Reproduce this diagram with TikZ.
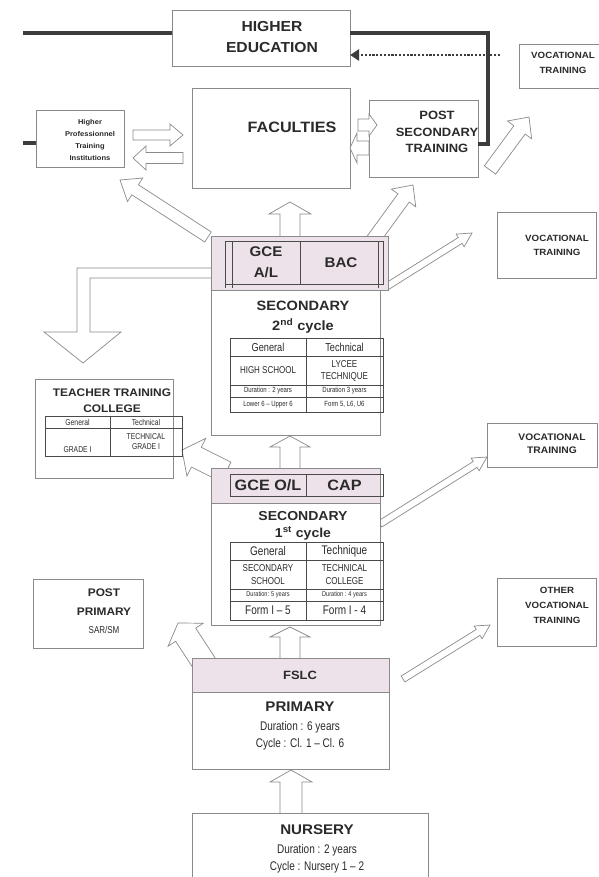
\documentclass[tikz,border=0pt]{standalone}
\usepackage{fontspec}
\setmainfont{Liberation Sans}
\newfontfamily\hf[FakeStretch=1.08]{Liberation Sans}
\newfontfamily\nf[FakeStretch=0.8]{Liberation Sans}
\usetikzlibrary{calc,arrows.meta}
\definecolor{txt}{HTML}{2A2A2A}
\definecolor{edge}{HTML}{8A8A8A}
\definecolor{pinkh}{HTML}{EDE2EA}
\definecolor{dark}{HTML}{3C3C3C}
\definecolor{tbl}{HTML}{4A4A4A}
\newcommand\fs[2]{\fontsize{#1}{#2}\selectfont}
\tikzset{
 box/.style={draw=edge, line width=0.8pt, fill=white, inner sep=0pt, outer sep=0pt},
 hbox/.style={box, fill=pinkh},
 tx/.style={text=txt, inner sep=0pt, align=center},
 barrowst/.style={draw=edge, line width=0.7pt, fill=white, line join=miter},
 heavy/.style={draw=dark, line width=4.5pt},
 tline/.style={draw=tbl, line width=1pt},
}
\newcommand\bx[6][box]{\node[#1, minimum width={#5-#3}, minimum height={#6-#4}] (#2) at ({(#3+#5)/2},{(#4+#6)/2}) {};}
\newcommand\barr[5]{%
 \coordinate (bc) at ($(#2)!#5!(#1)$);
 \draw[barrowst] ($(#1)!#3/2!90:(#2)$) -- ($(bc)!#3/2!-90:(#1)$) -- ($(bc)!#4/2!-90:(#1)$) -- (#2) -- ($(bc)!#4/2!90:(#1)$) -- ($(bc)!#3/2!90:(#1)$) -- ($(#1)!#3/2!-90:(#2)$) -- cycle;}
\begin{document}
\begin{tikzpicture}[x=1pt,y=-1pt]
\fill[white] (0,0) rectangle (598,877);
\useasboundingbox (0,0) rectangle (598,877);

% ---- arrows under boxes
\coordinate (a1s) at (133,135); \coordinate (a1e) at (183,135);
\coordinate (a2s) at (183,158); \coordinate (a2e) at (133,158);
\coordinate (a5s) at (490,170); \coordinate (a5e) at (529,117);
\coordinate (a6s) at (373,240); \coordinate (a6e) at (413,185);
\coordinate (a7s) at (290,240); \coordinate (a7e) at (290,202);
\coordinate (a8s) at (208,237); \coordinate (a8e) at (120,180);
\coordinate (a9s) at (386,287); \coordinate (a9e) at (472,233);
\coordinate (a10s) at (290,470); \coordinate (a10e) at (290,436);
\coordinate (a11s) at (226,472); \coordinate (a11e) at (182,450);
\coordinate (a12s) at (380,524); \coordinate (a12e) at (487,457);
\coordinate (a13s) at (290,660); \coordinate (a13e) at (290,627);
\coordinate (a14s) at (212,675); \coordinate (a14e) at (178,623);
\coordinate (a15s) at (403,679); \coordinate (a15e) at (490,625);
\coordinate (a16s) at (291,815); \coordinate (a16e) at (291,770);
\barr{a1s}{a1e}{10pt}{22pt}{13pt}
\barr{a2s}{a2e}{11pt}{24pt}{13pt}
\barr{a5s}{a5e}{14pt}{30pt}{16pt}
\barr{a6s}{a6e}{14pt}{30pt}{16pt}
\barr{a7s}{a7e}{20pt}{42pt}{12pt}
\barr{a8s}{a8e}{12pt}{28pt}{18pt}
\barr{a9s}{a9e}{7pt}{15pt}{14pt}
\barr{a10s}{a10e}{20pt}{40pt}{11pt}
\barr{a11s}{a11e}{22pt}{42pt}{16pt}
\barr{a12s}{a12e}{7pt}{15pt}{14pt}
\barr{a13s}{a13e}{20pt}{40pt}{10pt}
\barr{a14s}{a14e}{24pt}{42pt}{14pt}
\barr{a15s}{a15e}{7pt}{15pt}{14pt}
\barr{a16s}{a16e}{22pt}{42pt}{12pt}
% L-shaped arrow down to teacher training
\draw[barrowst] (215,268) -- (77,268) -- (77,332) -- (44,332) -- (83,363) -- (121,332) -- (90,332) -- (90,278) -- (215,278) -- cycle;

% ---- boxes
\bx{he}{172}{10}{350}{66}
\bx{vt1}{519}{44}{640}{88}
\bx{hpti}{36}{110}{124}{167}
\bx{fac}{192}{88}{350}{188}
\bx{pst}{369}{100}{478}{177}
\bx{vt2}{497}{212}{596}{278}
\bx[hbox]{s2h}{211}{236}{388}{290}
\bx{s2}{211}{290}{380}{435}
\bx{ttc}{35}{379}{173}{478}
\bx{vt3}{487}{423}{597}{467}
\bx[hbox]{s1h}{211}{468}{380}{503}
\bx{s1}{211}{503}{380}{625}
\bx{pp}{33}{579}{143}{648}
\bx{ovt}{497}{578}{596}{646}
\bx[hbox]{fslch}{192}{658}{389}{692}
\bx{prim}{192}{692}{389}{769}
\bx{nur}{192}{813}{428}{900}

% small arrows between faculties and post secondary
\coordinate (a3s) at (358,125); \coordinate (a3e) at (377,125);
\coordinate (a4s) at (369,148); \coordinate (a4e) at (350,148);
\barr{a3s}{a3e}{12pt}{22pt}{8pt}
\barr{a4s}{a4e}{14pt}{30pt}{7pt}

% ---- heavy lines
\coordinate (l1) at (23,33);
\coordinate (l2) at (488,33);
\coordinate (l3) at (488,144);
\coordinate (l4) at (23,143);
\draw[heavy] (l1) -- (l1 -| he.west);
\draw[heavy, line join=miter] (l1 -| he.east) -- (l2) -- (l3) -- (l3 -| pst.east);
\draw[heavy] (l4) -- (l4 -| hpti.west);
\coordinate (d1) at (500,55);
\draw[dark, line width=2.6pt, dash pattern=on 2.2pt off 1.6pt, -{Triangle[length=9pt,width=11pt]}] (d1) -- (d1 -| he.east);

% ---- tables
% 2nd cycle header
\draw[tline] (225,241) rectangle (383,284);
\draw[tline] (232,241) -- (232,288);
\draw[tline] (225,284) -- (225,288);
\draw[tline] (378,241) -- (378,288);
\draw[tline] (300,241) -- (300,284);
% 2nd cycle table
\draw[tline] (230,338) rectangle (383,412);
\foreach \yy in {356,385,397} \draw[tline] (230,\yy) -- (383,\yy);
\draw[tline] (306,338) -- (306,412);
% TTC table
\draw[tline] (45,416) rectangle (182,456);
\draw[tline] (45,428) -- (182,428);
\draw[tline] (110,416) -- (110,456);
% 1st cycle header
\draw[tline] (230,474) rectangle (383,496);
\draw[tline] (306,474) -- (306,496);
% 1st cycle table
\draw[tline] (230,542) rectangle (383,620);
\foreach \yy in {560,589,601} \draw[tline] (230,\yy) -- (383,\yy);
\draw[tline] (306,542) -- (306,620);

% ---- texts
\node[tx, font=\hf\bfseries\fs{14.5}{21}] (heT) at (272,37.5) {HIGHER\\EDUCATION};
\node[tx, font=\hf\bfseries\fs{15}{18}] (facT) at (292,127) {FACULTIES};
\node[tx, font=\hf\bfseries\fs{12}{16.5}] (pstT) at (437,132) {POST\\SECONDARY\\TRAINING};
\node[tx, font=\hf\bfseries\fs{9}{15}] (vt1T) at (563,63) {VOCATIONAL\\TRAINING};
\node[tx, font=\hf\bfseries\fs{7}{12}] (hptiT) at (90,140) {Higher\\Professionnel\\Training\\Institutions};
\node[tx, font=\hf\bfseries\fs{14}{21}] (glT) at (266,262.5) {GCE\\A/L};
\node[tx, font=\hf\bfseries\fs{14}{17}] (bacT) at (341,263) {BAC};
\node[tx, font=\hf\bfseries\fs{13.5}{20}] (s2T) at (303,317) {SECONDARY\\2\textsuperscript{nd} cycle};
\node[tx, font=\nf\fs{11.5}{13}] (t2a) at (268,347) {General};
\node[tx, font=\nf\fs{11.5}{13}] (t2b) at (344.5,347) {Technical};
\node[tx, font=\nf\fs{10}{12}] (t2c) at (268,370.5) {HIGH SCHOOL};
\node[tx, font=\nf\fs{10}{12}] (t2d) at (344.5,370.5) {LYCEE\\TECHNIQUE};
\node[tx, font=\nf\fs{7.5}{8}] (t2e) at (268,391) {Duration : 2 years};
\node[tx, font=\nf\fs{7.5}{8}] (t2f) at (344.5,391) {Duration 3 years};
\node[tx, font=\nf\fs{7.5}{8}] (t2g) at (268,404.5) {Lower 6 – Upper 6};
\node[tx, font=\nf\fs{7.5}{8}] (t2h) at (344.5,404.5) {Form 5, L6, U6};
\node[tx, font=\hf\bfseries\fs{11}{16}] (ttcT) at (112,401) {TEACHER TRAINING\\COLLEGE};
\node[tx, font=\nf\fs{8.5}{10}] (t3a) at (77.5,422) {General};
\node[tx, font=\nf\fs{8.5}{10}] (t3b) at (146,422) {Technical};
\node[tx, font=\nf\fs{8.5}{10}] (t3c) at (77.5,450) {GRADE I};
\node[tx, font=\nf\fs{8.5}{10}] (t3d) at (146,442) {TECHNICAL\\GRADE I};
\node[tx, font=\hf\bfseries\fs{15}{18}] (golT) at (268,485) {GCE O/L};
\node[tx, font=\hf\bfseries\fs{15}{18}] (capT) at (344.5,485) {CAP};
\node[tx, font=\hf\bfseries\fs{13}{17}] (s1T) at (303,525.5) {SECONDARY\\1\textsuperscript{st} cycle};
\node[tx, font=\nf\fs{12.5}{14}] (t1a) at (268,551) {General};
\node[tx, font=\nf\fs{12.5}{14}] (t1b) at (344.5,551) {Technique};
\node[tx, font=\nf\fs{10}{13}] (t1c) at (268,574.5) {SECONDARY\\SCHOOL};
\node[tx, font=\nf\fs{10}{13}] (t1d) at (344.5,574.5) {TECHNICAL\\COLLEGE};
\node[tx, font=\nf\fs{7}{8}] (t1e) at (268,595) {Duration: 5 years};
\node[tx, font=\nf\fs{7}{8}] (t1f) at (344.5,595) {Duration : 4 years};
\node[tx, font=\nf\fs{12.5}{14}] (t1g) at (268,610.5) {Form I – 5};
\node[tx, font=\nf\fs{12.5}{14}] (t1h) at (344.5,610.5) {Form I - 4};
\node[tx, font=\hf\bfseries\fs{11}{19}] (ppT) at (104,602.5) {POST\\PRIMARY};
\node[tx, font=\nf\fs{10}{12}] (ppS) at (104,630) {SAR/SM};
\node[tx, font=\hf\bfseries\fs{9}{14}] (vt2T) at (557,245) {VOCATIONAL\\TRAINING};
\node[tx, font=\hf\bfseries\fs{9.5}{13.5}] (vt3T) at (552,443.5) {VOCATIONAL\\TRAINING};
\node[tx, font=\hf\bfseries\fs{9}{15}] (ovtT) at (557,605) {OTHER\\VOCATIONAL\\TRAINING};
\node[tx, font=\hf\bfseries\fs{12}{14}] (fslcT) at (300,675) {FSLC};
\node[tx, font=\hf\bfseries\fs{14}{17}] (primT) at (300,707) {PRIMARY};
\node[tx, font=\nf\fs{12.5}{17}] (primS) at (300,735.5) {Duration : 6 years\\Cycle : Cl. 1 – Cl. 6};
\node[tx, font=\hf\bfseries\fs{14}{17}] (nurT) at (317,830) {NURSERY};
\node[tx, font=\nf\fs{12.5}{17}] (nurS) at (317,858.5) {Duration : 2 years\\Cycle : Nursery 1 – 2};
\end{tikzpicture}
\end{document}
